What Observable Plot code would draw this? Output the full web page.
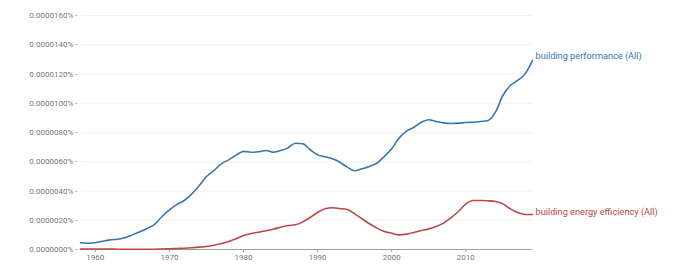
<!DOCTYPE html>
<html>
<head>
<meta charset="utf-8">
<script src="https://cdn.jsdelivr.net/npm/d3@7"></script>
<script src="https://cdn.jsdelivr.net/npm/@observablehq/plot@0.6"></script>
<style>
  html, body { margin: 0; padding: 0; background: #fff; }
  svg { display: block; }
</style>
</head>
<body>
<div id="chart"></div>
<script>
const years = d3.range(1958, 2020);

const seriesNames = ["building performance (All)", "building energy efficiency (All)"];
const seriesColors = ["#3a75b2", "#bc4649"];

// values in percent
const performance = [
  4.6e-7, 4.3e-7, 4.6e-7, 5.7e-7, 6.6e-7, 7.0e-7, 8.0e-7, 1.00e-6, 1.21e-6, 1.44e-6,
  1.71e-6, 2.26e-6, 2.71e-6, 3.07e-6, 3.35e-6, 3.79e-6, 4.36e-6, 4.99e-6, 5.40e-6, 5.86e-6,
  6.13e-6, 6.45e-6, 6.71e-6, 6.65e-6, 6.68e-6, 6.77e-6, 6.65e-6, 6.77e-6, 6.95e-6, 7.27e-6,
  7.23e-6, 6.82e-6, 6.47e-6, 6.34e-6, 6.20e-6, 5.97e-6, 5.63e-6, 5.38e-6, 5.52e-6, 5.68e-6,
  5.90e-6, 6.36e-6, 6.89e-6, 7.62e-6, 8.09e-6, 8.36e-6, 8.70e-6, 8.87e-6, 8.75e-6, 8.66e-6,
  8.62e-6, 8.64e-6, 8.68e-6, 8.70e-6, 8.75e-6, 8.82e-6, 9.39e-6, 1.053e-5, 1.121e-5, 1.156e-5,
  1.201e-5, 1.292e-5
];
const energyEfficiency = [
  3e-8, 3e-8, 3e-8, 3e-8, 3e-8, 2e-8, 2e-8, 2e-8, 2e-8, 2e-8,
  2e-8, 3e-8, 5e-8, 7e-8, 9e-8, 1.2e-7, 1.6e-7, 2.0e-7, 2.9e-7, 4.1e-7,
  5.5e-7, 7.3e-7, 9.6e-7, 1.09e-6, 1.18e-6, 1.28e-6, 1.39e-6, 1.52e-6, 1.64e-6, 1.69e-6,
  1.89e-6, 2.19e-6, 2.53e-6, 2.78e-6, 2.85e-6, 2.80e-6, 2.74e-6, 2.44e-6, 2.10e-6, 1.76e-6,
  1.46e-6, 1.23e-6, 1.11e-6, 1.00e-6, 1.05e-6, 1.16e-6, 1.30e-6, 1.41e-6, 1.57e-6, 1.80e-6,
  2.17e-6, 2.60e-6, 3.12e-6, 3.35e-6, 3.35e-6, 3.33e-6, 3.28e-6, 3.12e-6, 2.78e-6, 2.53e-6,
  2.39e-6, 2.39e-6
];

const yTicks = [0, 2e-6, 4e-6, 6e-6, 8e-6, 1e-5, 1.2e-5, 1.4e-5, 1.6e-5];
const xTicks = [1960, 1970, 1980, 1990, 2000, 2010];

const rows = [];
years.forEach((yr, i) => {
  rows.push({year: yr, value: performance[i], series: seriesNames[0]});
  rows.push({year: yr, value: energyEfficiency[i], series: seriesNames[1]});
});
const lastYear = years[years.length - 1];
const lastPerf = rows.filter(d => d.year === lastYear && d.series === seriesNames[0]);
const lastEff = rows.filter(d => d.year === lastYear && d.series === seriesNames[1]);

const fmt = d3.format(".7f");

const chart = Plot.plot({
  width: 674,
  height: 277,
  marginLeft: 80,
  marginRight: 142,
  marginTop: 15,
  marginBottom: 28,
  style: {fontFamily: "Roboto, sans-serif", fontSize: "8px", color: "#757575", background: "#fff"},
  x: {domain: [1958, 2019], label: null},
  y: {domain: [0, 1.6e-5], label: null},
  color: {domain: seriesNames, range: seriesColors},
  marks: [
    Plot.gridY(yTicks, {stroke: "#000", strokeOpacity: 0.06, x1: 1958.2, x2: 2019.2}),
    Plot.axisY(yTicks, {
      tickSize: 0,
      tickPadding: 3,
      tickFormat: d => `${fmt(d)}% -`,
      fill: "#757575",
      fontSize: 8,
      label: null
    }),
    Plot.axisX(xTicks, {
      tickSize: 3,
      tickPadding: 2,
      tickFormat: d => String(d),
      stroke: "#9e9e9e",
      fill: "#757575",
      fontSize: 8,
      label: null
    }),
    Plot.ruleY([0], {stroke: "#9e9e9e", strokeWidth: 1}),
    Plot.line(rows, {
      x: "year", y: "value", z: "series", stroke: "series",
      strokeWidth: 1.6, curve: "monotone-x"
    }),
    Plot.text(lastPerf, {
      x: "year", y: "value", text: "series", fill: "series",
      textAnchor: "start", dx: 3, dy: -4, fontSize: 9.2
    }),
    Plot.text(lastEff, {
      x: "year", y: "value", text: "series", fill: "series",
      textAnchor: "start", dx: 3, dy: -2, fontSize: 9.2
    })
  ]
});

document.getElementById("chart").appendChild(chart);
</script>
</body>
</html>
